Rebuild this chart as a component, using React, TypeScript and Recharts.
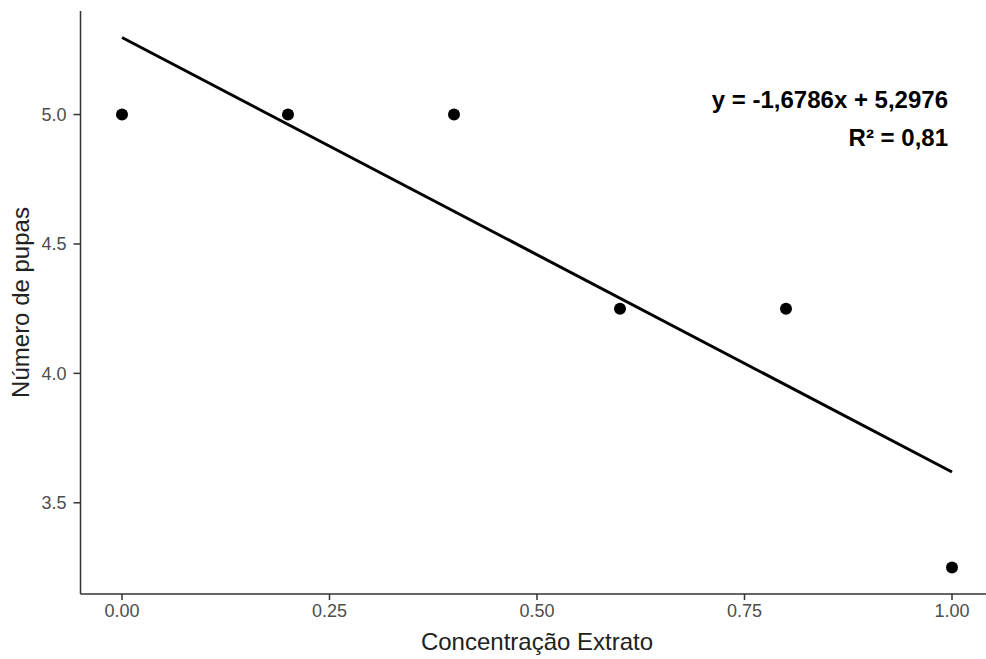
import { ScatterChart, Scatter, XAxis, YAxis, Customized } from 'recharts'

const concentracao = [0, 0.2, 0.4, 0.6, 0.8, 1.0]
const pupas = [5, 5, 5, 4.25, 4.25, 3.25]

// regression line end points (x, fitted y)
const fitX = [0, 1]
const fitY = [5.2976, 3.619]

const xTicks = [0, 0.25, 0.5, 0.75, 1]
const yTicks = [3.5, 4, 4.5, 5]

const points = concentracao.map((x, i) => ({ x, y: pupas[i] }))
const fitLine = fitX.map((x, i) => ({ x, y: fitY[i] }))

const font = '"Liberation Sans", Arial, sans-serif'
const axisColor = '#333333'
const tickStyle = { fontSize: 18, fill: '#4d4d4d', fontFamily: font }

function Dot(props: any) {
  return <circle cx={props.cx} cy={props.cy} r={6} fill="#000" />
}

function Equation() {
  return (
    <g fontFamily={font} fontWeight="bold" fontSize={24} fill="#000" textAnchor="end">
      <text x={948} y={108}>y = -1,6786x + 5,2976</text>
      <text x={948} y={146}>R² = 0,81</text>
    </g>
  )
}

export default function App() {
  return (
    <div
      style={{
        position: 'absolute',
        left: 0,
        top: 0,
        width: 986,
        height: 659,
        overflow: 'hidden',
        background: '#fff',
      }}
    >
      <ScatterChart width={1000} height={659} margin={{ top: 11, right: 6.5, left: 0, bottom: 0 }}>
        <XAxis
          type="number"
          dataKey="x"
          domain={[-0.05, 1.05]}
          ticks={xTicks}
          tickFormatter={(v: number) => v.toFixed(2)}
          allowDataOverflow
          height={65}
          tickSize={6}
          tickMargin={4}
          tick={tickStyle}
          stroke={axisColor}
          strokeWidth={1.5}
          label={{
            value: 'Concentração Extrato',
            position: 'insideBottom',
            offset: 9,
            style: { fontSize: 24, fill: '#222', fontFamily: font },
          }}
        />
        <YAxis
          type="number"
          dataKey="y"
          domain={[3.1476, 5.4]}
          ticks={yTicks}
          tickFormatter={(v: number) => v.toFixed(1)}
          allowDataOverflow
          width={80.5}
          tickSize={7}
          tickMargin={7}
          tick={tickStyle}
          stroke={axisColor}
          strokeWidth={1.5}
          label={{
            value: 'Número de pupas',
            angle: -90,
            position: 'insideLeft',
            offset: 20,
            style: { fontSize: 24, fill: '#222', fontFamily: font, textAnchor: 'middle' },
          }}
        />
        <Scatter
          data={fitLine}
          line={{ stroke: '#000', strokeWidth: 3 }}
          shape={() => <g />}
          isAnimationActive={false}
        />
        <Scatter data={points} shape={Dot} isAnimationActive={false} />
        <Customized component={Equation} />
      </ScatterChart>
    </div>
  )
}
